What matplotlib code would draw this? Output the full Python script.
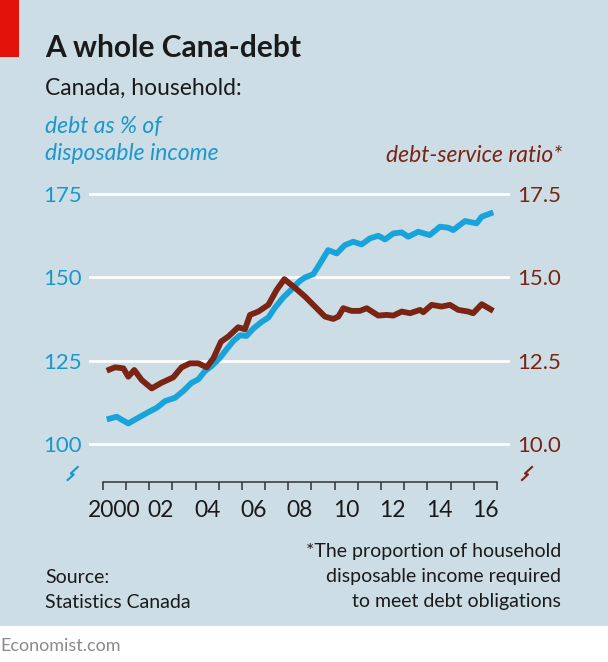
import matplotlib
matplotlib.use('Agg')
import matplotlib.pyplot as plt
from matplotlib.patches import Rectangle
from matplotlib.lines import Line2D

# debt as % of disposable income (left axis)
blue_year = [2000.17, 2000.6, 2001.1, 2001.53, 2001.97, 2002.33, 2002.69, 2003.12, 2003.47, 2003.84,
             2004.12, 2004.41, 2004.7, 2005.06, 2005.34, 2005.63, 2005.92, 2006.2, 2006.49, 2006.85,
             2007.14, 2007.43, 2007.78, 2008.15, 2008.5, 2008.72, 2009.08, 2009.37, 2009.72, 2010.09,
             2010.44, 2010.8, 2011.16, 2011.52, 2011.88, 2012.17, 2012.53, 2012.89, 2013.17, 2013.6,
             2014.1, 2014.54, 2014.9, 2015.11, 2015.62, 2016.12, 2016.34, 2016.84]
blue_val = [107.5, 108.3, 106.3, 108.0, 109.7, 111.0, 113.0, 114.0, 116.0, 118.5,
            119.5, 122.0, 123.5, 126.0, 128.5, 131.0, 132.7, 132.5, 134.7, 136.7,
            138.0, 141.0, 144.0, 146.5, 149.0, 150.0, 151.0, 154.2, 158.2, 157.2,
            159.7, 160.7, 159.9, 161.7, 162.5, 161.4, 163.2, 163.5, 162.2, 163.7,
            162.7, 165.2, 164.9, 164.2, 166.9, 166.2, 168.2, 169.5]

# debt-service ratio (right axis)
brown_year = [2000.17, 2000.53, 2000.89, 2001.1, 2001.36, 2001.68, 2002.11, 2002.54, 2003.04, 2003.4,
              2003.76, 2004.12, 2004.48, 2004.77, 2005.1, 2005.41, 2005.84, 2006.13, 2006.35, 2006.71,
              2007.14, 2007.5, 2007.83, 2008.29, 2008.72, 2009.15, 2009.58, 2009.94, 2010.16, 2010.37,
              2010.73, 2011.09, 2011.38, 2011.88, 2012.24, 2012.53, 2012.89, 2013.25, 2013.68, 2013.82,
              2014.18, 2014.61, 2014.97, 2015.33, 2015.76, 2015.97, 2016.34, 2016.84]
brown_val = [12.21, 12.31, 12.28, 12.03, 12.23, 11.93, 11.68, 11.85, 12.01, 12.31,
             12.43, 12.43, 12.31, 12.58, 13.08, 13.23, 13.51, 13.45, 13.88, 13.98,
             14.18, 14.63, 14.95, 14.69, 14.43, 14.13, 13.83, 13.76, 13.83, 14.08,
             14.0, 14.0, 14.08, 13.86, 13.88, 13.86, 13.98, 13.93, 14.03, 13.96,
             14.18, 14.13, 14.18, 14.03, 13.98, 13.93, 14.2, 14.0]

left_ticks = [100, 125, 150, 175]
right_ticks = [10.0, 12.5, 15.0, 17.5]
year_labels = ['2000', '02', '04', '06', '08', '10', '12', '14', '16']

BG = '#cddde6'
BLUE = '#18a4db'
BLUE_TXT = '#1a97cc'
BROWN = '#7a2413'
DARK = '#1a1a1a'
FONT = 'Lato'

W, H = 608, 662
fig = plt.figure(figsize=(W / 100, H / 100), dpi=100, facecolor='white')


def fx(x):
    return x / W


def fy(y):
    return 1 - y / H


# background panel and red tag
fig.patches.append(Rectangle((0, fy(626)), 1, 1 - fy(626), transform=fig.transFigure,
                             facecolor=BG, edgecolor='none', zorder=-10))
fig.patches.append(Rectangle((0, fy(57)), fx(18.5), 1 - fy(57), transform=fig.transFigure,
                             facecolor='#e3120b', edgecolor='none', zorder=-9))

# axes placement
left, right, bottom, top = 89.3, 510, 481.7, 185
ax = fig.add_axes([fx(left), fy(bottom), fx(right - left), fy(top) - fy(bottom)])
ax.set_facecolor('none')
ax.set_xlim(1999.42, 2017.56)
ax.set_ylim(88.86, 177.69)

for v in left_ticks:
    ax.axhline(v, color='white', lw=1.9, zorder=1)

ax.plot(blue_year, blue_val, color=BLUE, lw=4.2, solid_capstyle='butt', zorder=3)

ax.set_yticks(left_ticks)
ax.set_yticklabels([str(v) for v in left_ticks])
ax.tick_params(axis='y', length=0, pad=5.5, labelsize=16, labelcolor=BLUE_TXT)

for s in ['top', 'left', 'right']:
    ax.spines[s].set_visible(False)
ax.spines['bottom'].set_bounds(2000, 2017)
ax.spines['bottom'].set_color('#333333')
ax.spines['bottom'].set_linewidth(1.1)

ax.set_xticks(range(2000, 2018))
ax.set_xticklabels([])
ax.tick_params(axis='x', which='major', direction='out', length=6, width=1.1, color='#333333')
ax.set_xticks([2000.5 + 2 * i for i in range(len(year_labels))], minor=True)
ax.set_xticklabels(year_labels, minor=True)
ax.tick_params(axis='x', which='minor', length=0, pad=13, labelsize=16.5, labelcolor=DARK)

ax2 = ax.twinx()
ax2.set_ylim(8.886, 17.769)
ax2.plot(brown_year, brown_val, color=BROWN, lw=4.2, solid_capstyle='butt', zorder=3)
ax2.set_yticks(right_ticks)
ax2.set_yticklabels([f'{v:.1f}' for v in right_ticks])
ax2.tick_params(axis='y', length=0, pad=5, labelsize=16, labelcolor=BROWN)
for s in ax2.spines.values():
    s.set_visible(False)

for lab in ax.get_yticklabels() + ax2.get_yticklabels() + ax.get_xticklabels(minor=True):
    lab.set_family(FONT)

# axis break marks (zigzag)
for cx, col in [(72.7, BLUE_TXT), (527, BROWN)]:
    pts = [(-5, 7), (1, 1.5), (-2, 0.5), (5, -6)]
    fig.lines.append(Line2D([fx(cx + p[0]) for p in pts], [fy(473 + p[1]) for p in pts],
                            transform=fig.transFigure, color=col, lw=1.5))

# texts
fig.text(fx(45), fy(57), 'A whole Cana-debt', fontsize=21.5, fontweight='bold',
         family=FONT, color=DARK, va='baseline')
fig.text(fx(45), fy(95), 'Canada, household:', fontsize=16.5, family=FONT,
         color=DARK, va='baseline')
fig.text(fx(45), fy(133), 'debt as % of', fontsize=16.5, family=FONT, style='italic',
         color=BLUE_TXT, va='baseline')
fig.text(fx(45), fy(160), 'disposable income', fontsize=16.5, family=FONT, style='italic',
         color=BLUE_TXT, va='baseline')
fig.text(fx(562), fy(162), 'debt-service ratio*', fontsize=16.5, family=FONT, style='italic',
         color=BROWN, va='baseline', ha='right')

foot = ['*The proportion of household', 'disposable income required', 'to meet debt obligations']
for i, line in enumerate(foot):
    fig.text(fx(561), fy(557 + 25 * i), line, fontsize=14, family=FONT, color=DARK,
             va='baseline', ha='right')
fig.text(fx(45), fy(583), 'Source:', fontsize=14, family=FONT, color=DARK, va='baseline')
fig.text(fx(45), fy(608), 'Statistics Canada', fontsize=14, family=FONT, color=DARK,
         va='baseline')
fig.text(fx(0), fy(651), 'Economist.com', fontsize=13, family=FONT, color='#8a8a8a',
         va='baseline')

fig.savefig('out.png', dpi=100, facecolor='white')
